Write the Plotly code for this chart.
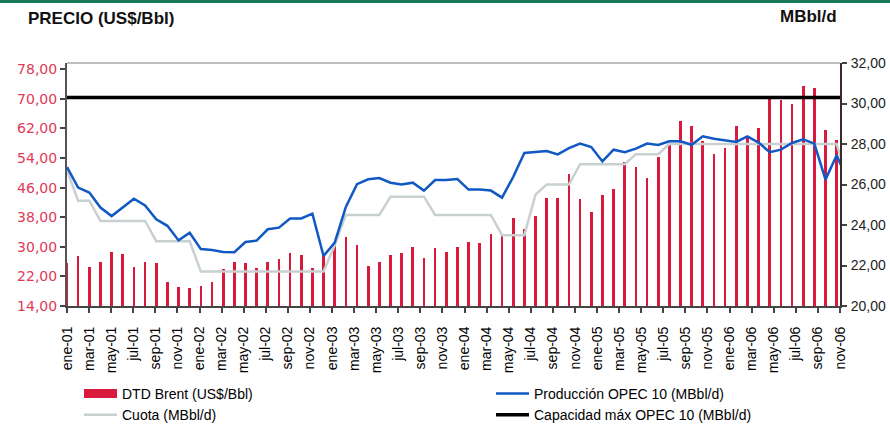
import plotly.graph_objects as go

meses = [
    "ene-01", "feb-01", "mar-01", "abr-01", "may-01", "jun-01", "jul-01", "ago-01", "sep-01", "oct-01", "nov-01", "dic-01",
    "ene-02", "feb-02", "mar-02", "abr-02", "may-02", "jun-02", "jul-02", "ago-02", "sep-02", "oct-02", "nov-02", "dic-02",
    "ene-03", "feb-03", "mar-03", "abr-03", "may-03", "jun-03", "jul-03", "ago-03", "sep-03", "oct-03", "nov-03", "dic-03",
    "ene-04", "feb-04", "mar-04", "abr-04", "may-04", "jun-04", "jul-04", "ago-04", "sep-04", "oct-04", "nov-04", "dic-04",
    "ene-05", "feb-05", "mar-05", "abr-05", "may-05", "jun-05", "jul-05", "ago-05", "sep-05", "oct-05", "nov-05", "dic-05",
    "ene-06", "feb-06", "mar-06", "abr-06", "may-06", "jun-06", "jul-06", "ago-06", "sep-06", "oct-06", "nov-06",
]

brent = [
    25.5, 27.4, 24.5, 25.8, 28.6, 28.0, 24.5, 25.8, 25.5, 20.4, 19.1, 18.8,
    19.4, 20.4, 23.9, 25.8, 25.5, 24.2, 25.8, 26.7, 28.2, 27.7, 24.2, 28.0,
    30.9, 32.6, 30.5, 24.8, 25.8, 27.7, 28.2, 29.9, 27.1, 29.6, 28.6, 29.9,
    31.2, 30.9, 33.6, 33.1, 37.7, 34.9, 38.4, 43.1, 43.1, 49.6, 42.8, 39.4,
    44.1, 45.5, 52.9, 51.6, 48.5, 54.3, 57.4, 63.9, 62.8, 58.5, 55.2, 56.7,
    62.8, 59.4, 62.1, 70.1, 69.6, 68.5, 73.5, 72.9, 61.5, 59.0, None,
]

produccion = [
    26.86, 25.85, 25.60, 24.86, 24.44, 24.87, 25.30, 24.97, 24.28, 23.96, 23.24, 23.62,
    22.81, 22.77, 22.67, 22.66, 23.16, 23.23, 23.79, 23.87, 24.32, 24.32, 24.56, 22.47,
    23.13, 24.89, 26.02, 26.26, 26.32, 26.09, 26.00, 26.09, 25.70, 26.22, 26.22, 26.27,
    25.75, 25.75, 25.70, 25.35, 26.37, 27.56, 27.60, 27.65, 27.49, 27.80, 28.02, 27.85,
    27.14, 27.72, 27.60, 27.77, 28.02, 27.95, 28.13, 28.13, 27.96, 28.38, 28.26, 28.18,
    28.10, 28.38, 28.07, 27.60, 27.72, 28.05, 28.23, 28.02, 26.24, 27.44, 26.20,
]

cuota = [
    26.7, 25.2, 25.2, 24.2, 24.2, 24.2, 24.2, 24.2, 23.2, 23.2, 23.2, 23.2,
    21.7, 21.7, 21.7, 21.7, 21.7, 21.7, 21.7, 21.7, 21.7, 21.7, 21.7, 21.7,
    23.0, 24.5, 24.5, 24.5, 24.5, 25.4, 25.4, 25.4, 25.4, 24.5, 24.5, 24.5,
    24.5, 24.5, 24.5, 23.5, 23.5, 23.5, 25.5, 26.0, 26.0, 26.0, 27.0, 27.0,
    27.0, 27.0, 27.0, 27.5, 27.5, 27.5, 28.0, 28.0, 28.0, 28.0, 28.0, 28.0,
    28.0, 28.0, 28.0, 28.0, 28.0, 28.0, 28.0, 28.0, 28.0, 28.0, 26.2,
]

capacidad = [30.3] * len(meses)

y_izq_ticks = [14, 22, 30, 38, 46, 54, 62, 70, 78]
y_izq_text = ["14,00", "22,00", "30,00", "38,00", "46,00", "54,00", "62,00", "70,00", "78,00"]
y_der_ticks = [20, 22, 24, 26, 28, 30, 32]
y_der_text = ["20,00", "22,00", "24,00", "26,00", "28,00", "30,00", "32,00"]

idx = list(range(len(meses)))
X_MAX = 69.3                     # visible index range (the last month sits at the right axis)
tick_pos = [i * X_MAX / (len(meses) - 1) for i in idx[::2]]
tick_txt = meses[::2]

ROJO = "#d81b3c"
AZUL = "#1058c4"
GRIS = "#c9d0d1"
NEGRO = "#000000"
FONT = "Liberation Sans, Arial, sans-serif"

fig = go.Figure()

fig.add_trace(go.Bar(
    x=idx, y=brent, yaxis="y",
    marker=dict(color=ROJO, line=dict(width=0)),
    width=0.24, showlegend=False, name="DTD Brent (US$/Bbl)",
))
# legend swatch for the bar series (wide red rectangle, as in the original)
fig.add_trace(go.Scatter(
    x=[None], y=[None], mode="lines", yaxis="y",
    line=dict(color=ROJO, width=9), name="DTD Brent (US$/Bbl)", legend="legend",
))
fig.add_trace(go.Scatter(
    x=idx, y=cuota, yaxis="y2", mode="lines",
    line=dict(color=GRIS, width=2.5), name="Cuota (MBbl/d)", legend="legend",
))
fig.add_trace(go.Scatter(
    x=idx, y=produccion, yaxis="y2", mode="lines",
    line=dict(color=AZUL, width=2.5), name="Producción OPEC 10 (MBbl/d)", legend="legend2",
))
fig.add_trace(go.Scatter(
    x=idx, y=capacidad, yaxis="y2", mode="lines",
    line=dict(color=NEGRO, width=3.5), name="Capacidad máx OPEC 10 (MBbl/d)", legend="legend2",
))

legend_common = dict(
    orientation="v", xref="container", yref="container", xanchor="left", yanchor="top",
    itemwidth=33, traceorder="normal", bgcolor="rgba(0,0,0,0)",
    font=dict(family=FONT, size=14, color="#000000"),
)

fig.update_layout(
    width=890, height=427,
    margin=dict(l=67, r=50, t=63, b=121, autoexpand=False),
    paper_bgcolor="white", plot_bgcolor="white",
    font=dict(family=FONT, size=14, color="#000000"),
    bargap=0,
    xaxis=dict(
        range=[0, X_MAX], tickmode="array", tickvals=tick_pos, ticktext=tick_txt,
        tickangle=-90, showgrid=False, zeroline=False, showline=True,
        linecolor="#444444", linewidth=2, ticks="outside", ticklen=5, tickwidth=1.5,
        tickcolor="#444444", ticklabelstandoff=8,
        tickfont=dict(family=FONT, size=14, color="#000000"),
    ),
    yaxis=dict(
        range=[14, 79.7], tickmode="array", tickvals=y_izq_ticks, ticktext=y_izq_text,
        showgrid=False, zeroline=False, showline=True, linecolor="#555555", linewidth=2,
        ticks="outside", ticklen=5, tickwidth=1.5, tickcolor="#444444",
        tickfont=dict(family="DejaVu Sans, sans-serif", size=14, color="#e03a57"),
    ),
    yaxis2=dict(
        overlaying="y", side="right", anchor="x", range=[20, 32], tickmode="array",
        tickvals=y_der_ticks, ticktext=y_der_text, showgrid=False, zeroline=False,
        showline=True, linecolor="#3a2a2a", linewidth=2, ticks="outside", ticklen=5,
        tickwidth=1.5, tickcolor="#444444", ticklabelstandoff=1,
        tickfont=dict(family=FONT, size=14, color="#222222"),
    ),
    legend=dict(legend_common, x=79 / 890, y=1 - 378 / 427),
    legend2=dict(legend_common, x=491 / 890, y=1 - 378 / 427),
    shapes=[
        dict(type="line", xref="paper", yref="paper", x0=0, x1=1, y0=1, y1=1,
             line=dict(color="#a8a8a8", width=1.5)),
        dict(type="rect", xref="paper", yref="paper", x0=-67 / 773, x1=1 + 50 / 773,
             y0=1 + 60 / 243, y1=1 + 64 / 243, line=dict(width=0), fillcolor="#157a58"),
    ],
    annotations=[
        dict(text="<b>PRECIO (US$/Bbl)</b>", xref="paper", yref="paper", x=-41 / 773,
             y=1 + 45 / 243, xanchor="left", yanchor="middle", showarrow=False,
             font=dict(family=FONT, size=17, color="#111111")),
        dict(text="<b>MBbl/d</b>", xref="paper", yref="paper", x=1 - 1 / 773,
             y=1 + 46 / 243, xanchor="right", yanchor="middle", showarrow=False,
             font=dict(family=FONT, size=17, color="#111111")),
    ],
)

fig.write_html("out.html", config={"displayModeBar": False},
               post_script="document.body.style.margin='0';")
